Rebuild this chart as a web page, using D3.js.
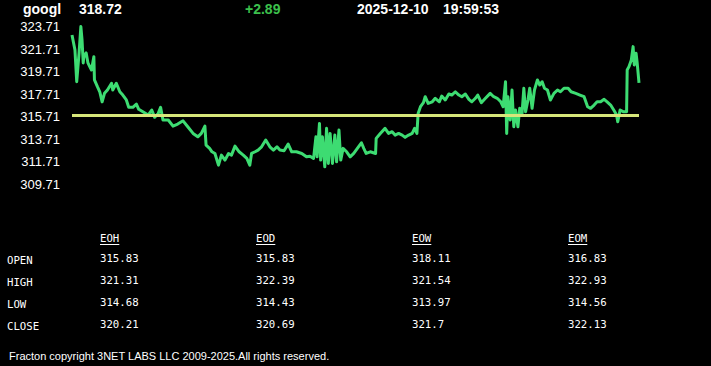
<!DOCTYPE html>
<html><head><meta charset="utf-8">
<script src="https://cdn.jsdelivr.net/npm/d3@7"></script>
<style>html,body{margin:0;padding:0;background:#000;}svg{display:block;}</style>
</head><body>
<script>
// ---- data ----
const symbol = "googl";
const lastPrice = "318.72";
const change = "+2.89";
const dateStr = "2025-12-10";
const timeStr = "19:59:53";
const refPrice = 315.83;
const yTicks = [323.71, 321.71, 319.71, 317.71, 315.71, 313.71, 311.71, 309.71];
// minutes since session start (04:00) and price
const minutes = [0,5,8,12,15,17,19,20,24,27,30,33,37,38,43,47,51,55,60,67,69,75,81,86,92,96,103,109,113,120,129,135,140,146,150,154,163,171,179,188,196,205,213,219,225,227,233,237,242,248,253,259,265,270,276,283,290,296,301,304,310,315,321,328,335,341,347,352,359,366,372,380,389,397,403,409,413,415,419,421,424,428,431,434,437,441,445,448,452,455,459,465,471,477,485,490,494,498,505,514,515,522,530,536,542,547,553,559,564,570,576,580,584,586,590,595,598,603,610,615,622,626,632,638,643,649,655,660,666,672,677,683,687,693,700,708,714,720,726,730,734,736,738,742,745,748,751,755,758,762,765,768,772,775,779,783,788,792,796,800,805,810,816,822,827,833,840,845,853,860,867,873,878,884,889,895,901,906,912,918,922,924,928,934,939,940,943,947,950,952,955,957,960];
const prices = [322.98,321.64,318.82,321.38,323.72,322.53,320.49,321.05,321.38,320.49,320.16,319.86,321.05,318.98,318.38,317.93,317.04,317.79,318.09,318.68,318.09,318.68,317.93,317.64,317.20,316.55,316.55,316.84,316.37,316.15,315.86,316.31,315.66,316.01,316.55,315.42,315.42,314.88,315.06,315.35,314.82,314.23,313.93,314.23,314.88,313.19,312.90,312.60,312.45,311.41,312.30,311.86,312.45,312.30,313.10,312.60,312.30,312.01,311.41,312.45,312.60,312.75,313.04,313.64,313.04,312.75,313.04,312.75,312.69,313.28,312.60,312.60,312.45,312.15,312.21,312.01,313.93,312.15,315.12,311.86,313.93,311.26,314.68,311.56,314.23,311.56,314.08,311.71,314.53,311.86,312.90,312.60,312.15,312.45,313.04,313.40,312.90,312.45,312.60,312.45,313.79,314.23,314.68,314.23,314.38,314.08,314.23,314.08,313.88,314.08,314.23,314.68,314.23,316.01,316.60,316.96,317.49,316.90,317.04,317.35,317.04,317.55,317.20,317.73,317.64,317.93,317.64,317.49,317.73,317.26,317.04,317.35,317.64,316.96,317.35,317.79,317.49,317.35,317.04,316.60,318.82,314.23,317.49,315.42,318.09,314.82,316.31,314.82,316.46,316.01,318.24,316.15,317.20,318.24,316.46,318.09,318.98,318.53,318.82,318.24,318.09,317.20,317.79,318.09,317.93,318.24,318.24,317.93,317.79,317.64,317.49,316.60,316.46,316.75,317.04,317.04,317.26,317.04,316.75,316.24,315.86,315.27,316.31,316.15,316.15,319.86,320.16,320.75,321.94,320.31,321.35,320.46,318.72];
const tableCols = ["EOH", "EOD", "EOW", "EOM"];
const rowLabels = ["OPEN", "HIGH", "LOW", "CLOSE"];
const eoh = ["315.83", "321.31", "314.68", "320.21"];
const eod = ["315.83", "322.39", "314.43", "320.69"];
const eow = ["318.11", "321.54", "313.97", "321.7"];
const eom = ["316.83", "322.93", "314.56", "322.13"];
const footer = "Fracton copyright 3NET LABS LLC 2009-2025.All rights reserved.";

// ---- drawing ----
const W = 711, H = 366;
const svg = d3.select("body").append("svg").attr("width", W).attr("height", H)
  .style("background", "#000");

const x = d3.scaleLinear().domain([0, 960]).range([72, 639]);
const y = d3.scaleLinear().domain([309.71, 323.71]).range([184.3, 26.7]);

// header
const hdr = svg.append("g").attr("font-family", "Arial, 'Liberation Sans', sans-serif")
  .attr("font-weight", "bold").attr("font-size", 14);
hdr.append("text").attr("x", 23).attr("y", 13.5).attr("fill", "#fff").text(symbol);
hdr.append("text").attr("x", 79).attr("y", 13.5).attr("fill", "#fff").text(lastPrice);
hdr.append("text").attr("x", 245).attr("y", 13.5).attr("fill", "#3cc04c").text(change);
hdr.append("text").attr("x", 357).attr("y", 13.5).attr("fill", "#fff").text(dateStr);
hdr.append("text").attr("x", 443).attr("y", 13.5).attr("fill", "#fff").text(timeStr);

// y labels
svg.append("g").attr("font-family", "Arial, 'Liberation Sans', sans-serif").attr("font-size", 13)
  .attr("fill", "#fff").attr("text-anchor", "end")
  .selectAll("text").data(yTicks).join("text")
  .attr("x", 60).attr("y", d => y(d) + 4.6).text(d => d.toFixed(2));

// price line
const line = d3.line().x((d, i) => x(minutes[i])).y(d => y(d));
svg.append("path").datum(prices).attr("d", line).attr("fill", "none")
  .attr("stroke", "#3ddc72").attr("stroke-width", 3).attr("stroke-linejoin", "round");

// reference line
svg.append("line").attr("x1", x(0)).attr("x2", x(960)).attr("y1", y(refPrice)).attr("y2", y(refPrice))
  .attr("stroke", "#d6e67a").attr("stroke-width", 3);

// table
const tbl = svg.append("g").attr("font-family", "'DejaVu Sans Mono', 'Liberation Mono', monospace")
  .attr("font-size", 10.7).attr("fill", "#fff");
const colX = [100, 256, 412, 568];
const rowY = [262, 284, 306, 328];
const colData = [eoh, eod, eow, eom];
tableCols.forEach((c, i) => {
  tbl.append("text").attr("x", colX[i]).attr("y", 242).text(c);
  tbl.append("line").attr("x1", colX[i]).attr("x2", colX[i] + c.length * 6.44)
    .attr("y1", 244.5).attr("y2", 244.5).attr("stroke", "#fff").attr("stroke-width", 1);
});
rowLabels.forEach((r, j) => {
  tbl.append("text").attr("x", 7).attr("y", rowY[j] + 1.5).text(r);
});
colData.forEach((col, i) => {
  col.forEach((v, j) => {
    tbl.append("text").attr("x", colX[i]).attr("y", rowY[j]).text(v);
  });
});

// footer
svg.append("text").attr("x", 9).attr("y", 359.5).attr("fill", "#fff")
  .attr("font-family", "Arial, 'Liberation Sans', sans-serif").attr("font-size", 11)
  .text(footer);
</script>
</body></html>
